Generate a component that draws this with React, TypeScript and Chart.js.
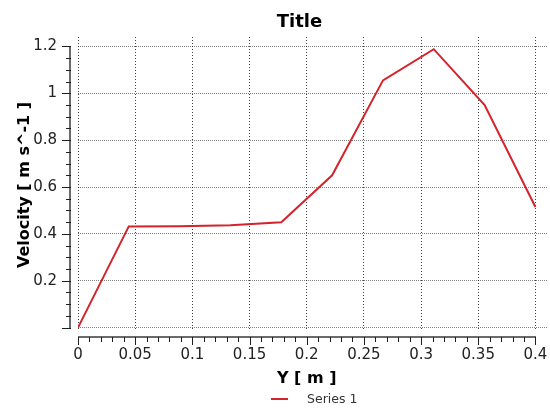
import React, { useEffect, useRef } from 'react';
import { Chart, registerables } from 'chart.js';

Chart.register(...registerables);

// ---- data ----
const positions = [0, 0.0444, 0.0889, 0.1333, 0.1778, 0.2222, 0.2667, 0.3111, 0.3556, 0.4];
const velocity = [0, 0.432, 0.433, 0.437, 0.45, 0.65, 1.055, 1.188, 0.95, 0.515];
const xTicks = [0, 0.05, 0.1, 0.15, 0.2, 0.25, 0.3, 0.35, 0.4];
const xTickLabels = ['0', '0.05', '0.1', '0.15', '0.2', '0.25', '0.3', '0.35', '0.4'];
const yTicks = [0, 0.2, 0.4, 0.6, 0.8, 1, 1.2];
const yTickLabels = ['', '0.2', '0.4', '0.6', '0.8', '1', '1.2'];
const seriesLabel = 'Series 1';
const chartTitle = 'Title';
const xTitle = 'Y [ m ]';
const yTitle = 'Velocity [ m s^-1 ]';
const xMinorStep = 0.01;
const yMinorStep = 0.05;

const FONT = '"DejaVu Sans", Verdana, sans-serif';
const LINE_COLOR = '#d3232b';

export default function App() {
  const ref = useRef<HTMLCanvasElement>(null);

  useEffect(() => {
    document.body.style.margin = '0';
    const canvas = ref.current;
    if (!canvas) return;

    const decor = {
      id: 'decor',
      afterDraw(chart: any) {
        const { ctx, chartArea, scales } = chart;
        const xs = scales.x;
        const ys = scales.y;
        const xMin = xTicks[0];
        const xMax = xTicks[xTicks.length - 1];
        const yMin = yTicks[0];
        const yMax = yTicks[yTicks.length - 1];
        const px0 = xs.getPixelForValue(xMin);
        const px1 = xs.getPixelForValue(xMax);
        const py0 = ys.getPixelForValue(yMin);
        const py1 = ys.getPixelForValue(yMax);
        const axisY = Math.round(chartArea.bottom) + 7;
        const axisX = Math.round(chartArea.left) - 8;

        ctx.save();
        // axis lines
        ctx.strokeStyle = '#6a6a6a';
        ctx.lineWidth = 2;
        ctx.beginPath();
        ctx.moveTo(axisX, Math.round(py0) + 1);
        ctx.lineTo(axisX, Math.round(py1));
        ctx.stroke();
        ctx.beginPath();
        ctx.moveTo(Math.round(px0), axisY);
        ctx.lineTo(Math.round(px1) + 1, axisY);
        ctx.stroke();

        // ticks
        ctx.strokeStyle = '#1e1e1e';
        ctx.lineWidth = 1;
        ctx.beginPath();
        const nx = Math.round((xMax - xMin) / xMinorStep);
        for (let i = 0; i <= nx; i++) {
          const v = xMin + i * xMinorStep;
          const isMajor = i % 5 === 0;
          const p = Math.round(xs.getPixelForValue(v)) + 0.5;
          ctx.moveTo(p, axisY);
          ctx.lineTo(p, axisY + (isMajor ? 8 : 5));
        }
        const ny = Math.round((yMax - yMin) / yMinorStep);
        for (let i = 0; i <= ny; i++) {
          const v = yMin + i * yMinorStep;
          const isMajor = i % 4 === 0;
          const p = Math.round(ys.getPixelForValue(v)) + 0.5;
          ctx.moveTo(axisX + 1, p);
          ctx.lineTo(axisX + 1 - (isMajor ? 9 : 5), p);
        }
        ctx.stroke();

        // chart title
        ctx.fillStyle = '#000';
        ctx.textAlign = 'center';
        ctx.textBaseline = 'alphabetic';
        ctx.font = `bold 18px ${FONT}`;
        ctx.fillText(chartTitle, 299.5, 27);

        // x title
        ctx.font = `bold 16px ${FONT}`;
        ctx.textBaseline = 'middle';
        ctx.fillText(xTitle, (px0 + px1) / 2, 379);

        // y title
        ctx.save();
        ctx.translate(25, (py0 + py1) / 2 - 2);
        ctx.rotate(-Math.PI / 2);
        ctx.fillText(yTitle, 0, 0);
        ctx.restore();

        // legend
        const ds = chart.data.datasets[0];
        ctx.strokeStyle = ds.borderColor;
        ctx.lineWidth = 2;
        ctx.beginPath();
        ctx.moveTo(271, 399);
        ctx.lineTo(288, 399);
        ctx.stroke();
        ctx.fillStyle = '#333';
        ctx.textAlign = 'left';
        ctx.font = `12.5px ${FONT}`;
        ctx.fillText(ds.label, 307, 399.5);
        ctx.restore();
      },
    };

    const chart = new Chart(canvas, {
      type: 'line',
      data: {
        datasets: [
          {
            label: seriesLabel,
            data: positions.map((x, i) => ({ x, y: velocity[i] })),
            borderColor: LINE_COLOR,
            backgroundColor: LINE_COLOR,
            borderWidth: 2,
            pointRadius: 0,
            tension: 0,
            fill: false,
          },
        ],
      },
      options: {
        responsive: false,
        animation: false,
        layout: { padding: { top: 37, right: 2, left: 0, bottom: 0 } },
        plugins: {
          legend: { display: false },
          title: { display: false },
          tooltip: { enabled: false },
        },
        scales: {
          x: {
            type: 'linear',
            min: 0,
            max: 0.411,
            afterBuildTicks: (s: any) => {
              s.ticks = xTicks.map((v) => ({ value: v }));
            },
            afterFit: (s: any) => {
              s.height = 82;
              s.paddingLeft = 0;
              s.paddingRight = 0;
              s.paddingTop = 0;
              s.paddingBottom = 0;
            },
            grid: { color: 'rgba(0,0,0,0.75)', lineWidth: 1, drawTicks: false },
            border: { display: false, dash: [1, 2] },
            ticks: {
              padding: 16,
              autoSkip: false,
              maxRotation: 0,
              color: '#222',
              font: { family: FONT, size: 15 },
              callback: (_v: any, i: number) => xTickLabels[i],
            },
          },
          y: {
            type: 'linear',
            min: -0.01,
            max: 1.24,
            afterBuildTicks: (s: any) => {
              s.ticks = yTicks.map((v) => ({ value: v }));
            },
            afterFit: (s: any) => {
              s.width = 78;
              s.paddingTop = 0;
              s.paddingBottom = 0;
              s.paddingLeft = 0;
              s.paddingRight = 0;
            },
            grid: { color: 'rgba(0,0,0,0.5)', lineWidth: 1, drawTicks: false },
            border: { display: false, dash: [1, 1] },
            ticks: {
              padding: 21,
              autoSkip: false,
              color: '#222',
              font: { family: FONT, size: 15 },
              callback: (_v: any, i: number) => yTickLabels[i],
            },
          },
        },
      },
      plugins: [decor],
    });

    return () => chart.destroy();
  }, []);

  return <canvas ref={ref} width={550} height={412} style={{ display: 'block' }} />;
}
